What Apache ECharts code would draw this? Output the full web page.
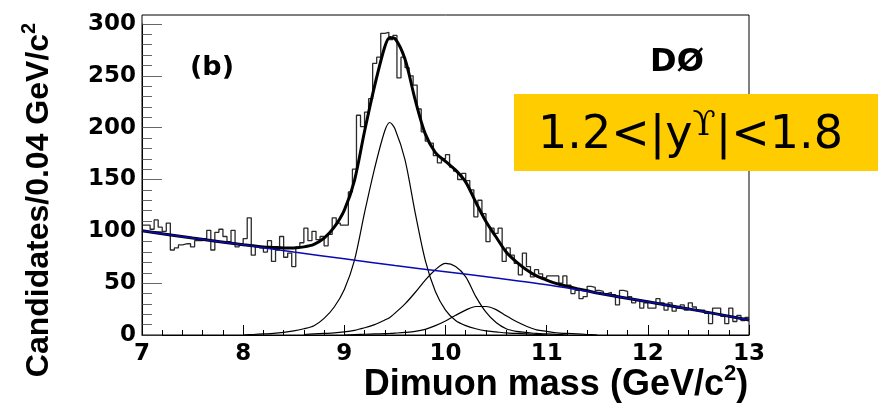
<!DOCTYPE html>
<html>
<head>
<meta charset="utf-8">
<script src="https://cdn.jsdelivr.net/npm/echarts@6/dist/echarts.min.js"></script>
<style>
  html, body { margin: 0; padding: 0; background: #fff; }
  #chart { width: 881px; height: 411px; }
</style>
</head>
<body>
<div id="chart"></div>
<script>
// histogram: 150 bins of 0.04 GeV/c2 from 7.00 to 13.00
const binStart = 7.0;
const binWidth = 0.04;
const candidates = [
  106, 106, 102, 111, 104, 100, 108, 82, 84, 87, 88, 88, 85, 91, 91, 93, 101, 82, 99, 102, 95, 90, 101, 85, 88,
  93, 113, 77, 86, 84, 80, 91, 71, 82, 95, 75, 79, 66, 85, 89, 103, 91, 100, 92, 95, 86, 97, 113, 108, 106,
  106, 138, 160, 212, 201, 215, 228, 262, 268, 291, 292, 285, 289, 248, 268, 258, 250, 241, 218, 196, 187, 185, 173, 166, 170,
  174, 162, 158, 150, 156, 149, 140, 114, 130, 117, 90, 103, 98, 103, 71, 84, 77, 69, 58, 79, 66, 56, 63, 59, 55,
  57, 57, 57, 50, 57, 48, 40, 43, 35, 37, 47, 46, 43, 42, 40, 41, 39, 29, 43, 42, 37, 31, 34, 26, 31,
  26, 26, 35, 31, 24, 31, 23, 26, 29, 24, 31, 27, 24, 24, 21, 11, 26, 26, 18, 11, 26, 13, 19, 14, 17
];

// background fit (blue)
const bgMass = [7.0, 7.5, 8.0, 8.5, 9.0, 9.5, 10.0, 10.5, 11.0, 11.5, 12.0, 12.5, 13.0];
const bgFit  = [100.5, 93.5, 87, 80, 73.5, 67, 61, 55, 48.5, 40.5, 32, 23.5, 14.5];

// signal peaks, read on a common mass grid (null = not drawn)
const peakMass = [8.0, 8.1, 8.2, 8.3, 8.4, 8.5, 8.6, 8.7, 8.8, 8.9, 9.0, 9.1, 9.2, 9.3, 9.4, 9.45, 9.5,
  9.6, 9.7, 9.8, 9.9, 10.0, 10.1, 10.2, 10.3, 10.4, 10.5, 10.6, 10.7, 10.8, 10.9, 11.0, 11.1, 11.2, 11.3, 11.4, 11.5];
const ups1S = [0, 0.5, 1, 1.5, 2.5, 4, 6, 9, 16, 27, 44, 72, 118, 161, 197, 205, 199,
  169, 118, 72, 42, 24, 14, 9, 6, 4, 3, 2, 1.5, 1, 0.5, 0, null, null, null, null, null];
const ups2S = [null, null, null, null, null, null, 0.5, 1, 1.5, 2, 3, 4.5, 7, 10, 14.5, 17, 21,
  30, 41, 53, 63, 69, 66, 56, 37, 22, 12, 6, 3.5, 2.5, 1.5, 1, 0.5, 0, null, null, null];
const ups3S = [null, null, null, null, null, null, null, null, null, null, 0, 0.5, 0.7, 1, 1.3, 1.5, 1.8,
  2.5, 3.5, 5.5, 9, 13.5, 19, 24, 27.5, 27.5, 24.5, 18.5, 13, 8.5, 5, 3.5, 2, 1.5, 1, 0.5, 0];

// total fit (thick black)
const totalMass = [7.0, 7.5, 8.0, 8.1, 8.2, 8.3, 8.4, 8.5, 8.6, 8.7, 8.8, 8.9, 9.0, 9.1, 9.2, 9.3, 9.4, 9.45, 9.5,
  9.6, 9.7, 9.8, 9.9, 10.0, 10.1, 10.2, 10.3, 10.4, 10.5, 10.6, 10.7, 10.8, 10.9, 11.0, 11.1, 11.2, 11.3, 11.4, 11.5,
  12.0, 12.5, 13.0];
const totalFit = [100.5, 93.5, 87, 86, 85, 84.5, 84, 84, 85, 87.5, 93.5, 104, 120.5, 149, 196.5, 240.5, 278, 287, 286,
  266, 227, 194, 176, 167.5, 159, 147.5, 128, 109.5, 94.5, 80, 70.5, 63, 57, 53, 49.5, 47, 44.7, 42.6, 40.5,
  32, 23.5, 14.5];

const histData = candidates.map((v, i) => [binStart + i * binWidth, v]);
histData.push([binStart + candidates.length * binWidth, candidates[candidates.length - 1]]);

function pairs(xs, ys) {
  const out = [];
  xs.forEach((x, i) => { if (ys[i] !== null) out.push([x, ys[i]]); });
  return out;
}

const chart = echarts.init(document.getElementById('chart'));
const boldNum = { fontFamily: 'DejaVu Sans', fontWeight: 'bold', fontSize: 23, color: '#000' };

// rich styles for a bold title with a raised superscript
function titleRich(size, supSize) {
  return {
    t: { fontFamily: 'Liberation Sans', fontWeight: 'bold', fontSize: size, lineHeight: size + 4,
         padding: [10, 0, 0, 0], verticalAlign: 'bottom', color: '#000' },
    s: { fontFamily: 'Liberation Sans', fontWeight: 'bold', fontSize: supSize, lineHeight: supSize,
         verticalAlign: 'top', color: '#000' }
  };
}

const option = {
  animation: false,
  backgroundColor: '#fff',
  grid: { left: 142, top: 24, width: 607, height: 311 },
  xAxis: {
    type: 'value', min: 7, max: 13, interval: 1,
    axisLine: { show: true, onZero: false, lineStyle: { color: '#000', width: 1 } },
    axisTick: { show: true, inside: true, length: 10, lineStyle: { color: '#000' } },
    minorTick: { show: true, splitNumber: 5, length: 5, lineStyle: { color: '#000' } },
    splitLine: { show: false },
    axisLabel: Object.assign({ margin: 8 }, boldNum)
  },
  yAxis: {
    type: 'value', min: 0, max: 300, interval: 50,
    axisLine: { show: true, lineStyle: { color: '#000', width: 1 } },
    axisTick: { show: true, inside: true, length: 20, lineStyle: { color: '#666' } },
    minorTick: { show: true, splitNumber: 5, length: 10, lineStyle: { color: '#666' } },
    splitLine: { show: false },
    axisLabel: Object.assign({ margin: 6 }, boldNum)
  },
  series: [
    {
      name: 'data', type: 'line', step: 'end', data: histData, showSymbol: false, z: 2,
      lineStyle: { color: '#2a2a2a', width: 1.3 }
    },
    {
      name: 'Y(1S)', type: 'line', data: pairs(peakMass, ups1S), showSymbol: false, smooth: 0.3, z: 3,
      lineStyle: { color: '#000', width: 1.2 }
    },
    {
      name: 'Y(2S)', type: 'line', data: pairs(peakMass, ups2S), showSymbol: false, smooth: 0.3, z: 3,
      lineStyle: { color: '#000', width: 1.2 }
    },
    {
      name: 'Y(3S)', type: 'line', data: pairs(peakMass, ups3S), showSymbol: false, smooth: 0.3, z: 3,
      lineStyle: { color: '#000', width: 1.2 }
    },
    {
      name: 'total', type: 'line', data: pairs(totalMass, totalFit), showSymbol: false, smooth: 0.3, z: 4,
      lineStyle: { color: '#000', width: 3 }
    },
    {
      name: 'background', type: 'line', data: pairs(bgMass, bgFit), showSymbol: false, smooth: 0.3, z: 5,
      lineStyle: { color: '#0a0ab4', width: 1.5 }
    }
  ],
  graphic: [
    // frame
    { type: 'rect', shape: { x: 142, y: 15, width: 607, height: 320 }, silent: true, z: 10,
      style: { fill: 'none', stroke: '#000', lineWidth: 1 } },
    { type: 'text', x: 212, y: 68, z: 20,
      style: { text: '(b)', fontFamily: 'DejaVu Sans', fontWeight: 'bold', fontSize: 27, fill: '#000',
               align: 'center', verticalAlign: 'middle' } },
    { type: 'text', x: 677, y: 63, z: 20,
      style: { text: 'DØ', fontFamily: 'DejaVu Sans', fontWeight: 'bold', fontSize: 32, fill: '#000',
               align: 'center', verticalAlign: 'middle' } },
    { type: 'rect', shape: { x: 514, y: 94, width: 364, height: 77 }, z: 30,
      style: { fill: '#ffcc00' } },
    { type: 'text', x: 538, y: 136, z: 31,
      style: {
        text: '{a|1.2<|y}{s|ϒ}{a||<1.8}', align: 'left', verticalAlign: 'middle',
        rich: {
          a: { fontFamily: 'DejaVu Sans', fontSize: 46, lineHeight: 54, color: '#000' },
          s: { fontFamily: 'DejaVu Serif', fontSize: 34, lineHeight: 36, verticalAlign: 'top', color: '#000' }
        }
      } },
    { type: 'text', x: 37, y: 200, rotation: Math.PI / 2, z: 20,
      style: {
        text: '{t|Candidates/0.04 GeV/c}{s|2}', align: 'center', verticalAlign: 'middle',
        rich: titleRich(32, 20)
      } },
    { type: 'text', x: 556, y: 383, z: 20,
      style: {
        text: '{t|Dimuon mass (GeV/c}{s|2}{t|)}', align: 'center', verticalAlign: 'middle',
        rich: titleRich(36, 22)
      } }
  ]
};

chart.setOption(option);
</script>
</body>
</html>
